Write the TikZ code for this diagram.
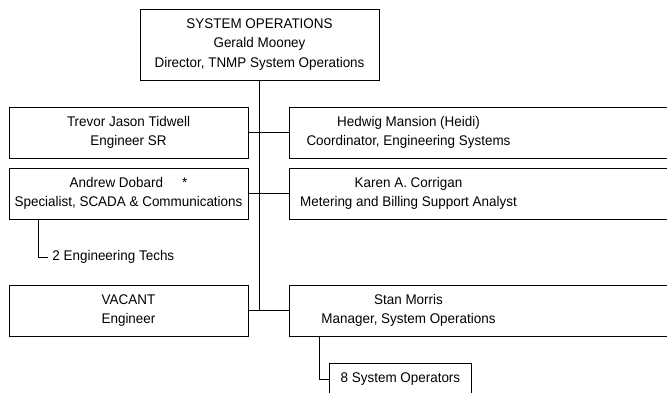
\documentclass[tikz,border=0pt]{standalone}
\usepackage{fontspec}
\setmainfont{Liberation Sans}[FakeStretch=0.96]
\usetikzlibrary{positioning}

\begin{document}
\begin{tikzpicture}[x=1pt, y=-1pt, line width=0.9pt]
\tikzstyle{post}=[draw, rectangle, align=center, inner sep=0pt, minimum width=239pt, minimum height=51pt, font=\fontsize{14}{19.6}\selectfont]
\tikzstyle{frame}=[draw, rectangle, inner sep=0pt, minimum width=420pt, minimum height=51pt, anchor=west]
\tikzstyle{caption}=[align=center, inner sep=0pt, font=\fontsize{14}{19.6}\selectfont]
\clip (0,0) rectangle (667,392);

\node[post, minimum height=71pt] (head) at (259.5,44.5) {SYSTEM OPERATIONS\\Gerald Mooney\\Director, TNMP System Operations};

\node[post] (trevor) at (128.5,132.5) {Trevor Jason Tidwell\\Engineer SR};
\node[post] (andrew) at (128.5,193.5) {Andrew Dobard\hspace{19pt}*\\Specialist, SCADA \& Communications};
\node[post] (vacant) at (128.5,310.5) {VACANT\\Engineer};

\node[frame] (hedwig) at (289,132.5) {};
\node[caption] (hedwigtxt) at (408.5,132.5) {Hedwig Mansion (Heidi)\\Coordinator, Engineering Systems};
\node[frame] (karen) at (289,193.5) {};
\node[caption] (karentxt) at (408.5,193.5) {Karen A. Corrigan\\Metering and Billing Support Analyst};
\node[frame] (stan) at (289,310.5) {};
\node[caption] (stantxt) at (408.5,310.5) {Stan Morris\\Manager, System Operations};

\node[caption, inner xsep=4pt, anchor=west] (techs) at (48,257) {2 Engineering Techs};
\node[post, minimum width=142pt, minimum height=32pt, anchor=west] (ops) at (329,379) {8 System Operators};

\coordinate (trunk) at (259.5,310.5);

\path
(head) edge (trunk)
(trevor) edge (hedwig.west)
(andrew) edge (karen.west)
(vacant) edge (stan.west);

\draw ([xshift=30pt]andrew.south west) |- (techs.west);
\draw ([xshift=30pt]stan.south west) |- (ops.west);

\end{tikzpicture}
\end{document}
